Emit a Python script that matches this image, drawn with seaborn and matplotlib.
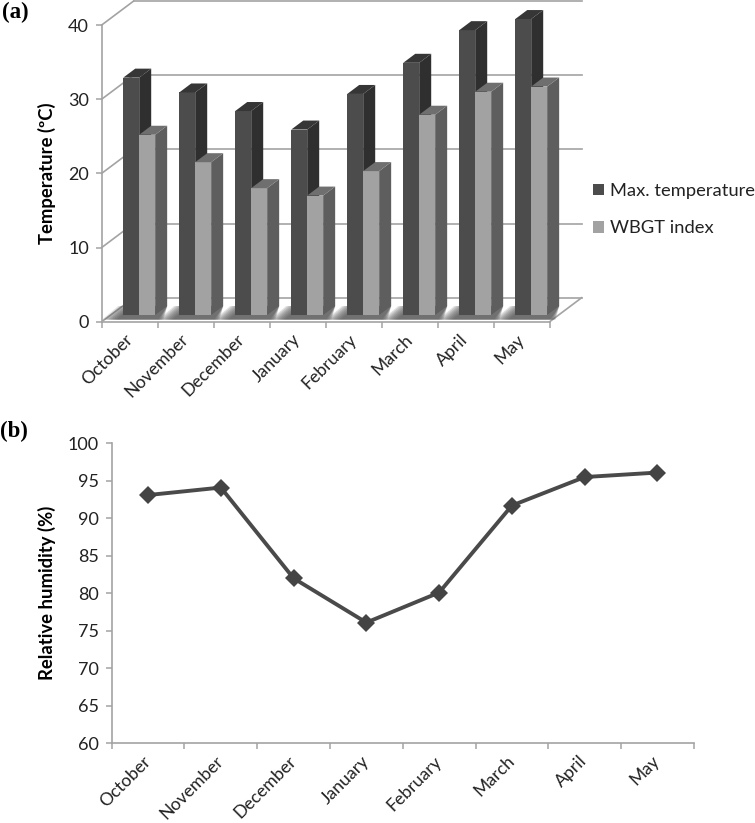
import matplotlib
matplotlib.use("Agg")
import matplotlib.pyplot as plt
import pandas as pd
import seaborn as sns
from matplotlib.patches import Polygon

months = ["October", "November", "December", "January", "February", "March", "April", "May"]
max_temp = [32.0, 30.0, 27.5, 25.0, 29.8, 34.0, 38.4, 39.9]
wbgt = [24.3, 20.6, 17.1, 16.1, 19.4, 27.0, 30.1, 30.8]
humidity = [93.1, 94.1, 82.0, 76.1, 80.1, 91.7, 95.5, 96.1]
series_names = ["Max. temperature", "WBGT index"]

W, H = 755, 823
GREY = "#a3a3a3"
TXT = "#222222"
DARK = "#4c4c4c"
LIGHT = "#a2a2a2"
FS = 13

sns.set_theme(style="white")
plt.rcParams["font.family"] = ["Lato", "DejaVu Sans"]
plt.rcParams["font.size"] = FS

fig = plt.figure(figsize=(W / 100, H / 100), dpi=100)


def axes_px(left, right, top, bottom):
    return fig.add_axes([left / W, 1 - bottom / H, (right - left) / W, (bottom - top) / H])


def style_axes(ax):
    sns.despine(ax=ax)
    for s in ("left", "bottom"):
        ax.spines[s].set_color(GREY)
        ax.spines[s].set_linewidth(1.2)
    ax.tick_params(axis="y", which="major", left=True, length=4.3, width=1.1, color=GREY,
                   pad=5, labelsize=FS, labelcolor=TXT)
    ax.set_xticks(range(len(months)))
    ax.set_xticks([i - 0.5 for i in range(len(months) + 1)], minor=True)
    ax.tick_params(axis="x", which="major", bottom=False, length=0, pad=11, labelsize=12.7, labelcolor=TXT)
    ax.tick_params(axis="x", which="minor", bottom=True, length=4, width=1.1, color=GREY)
    ax.set_xticklabels(months, rotation=45, ha="right", va="center", rotation_mode="anchor")
    ax.set_xlim(-0.5, len(months) - 0.5)
    ax.set_xlabel("")


# ---------- panel (a) ----------
ax = axes_px(101.7, 549.7, 25, 321.7)
df = pd.DataFrame({
    "month": months * 2,
    "series": [series_names[0]] * len(months) + [series_names[1]] * len(months),
    "value": max_temp + wbgt,
})
sns.barplot(data=df, x="month", y="value", hue="series", order=months, hue_order=series_names,
            palette=[DARK, LIGHT], width=0.57, gap=0, saturation=1, linewidth=0, ax=ax)
ax.set_ylim(0, 40)
ax.set_yticks([0, 10, 20, 30, 40])
style_axes(ax)

px_x = 1 / 56.0           # one pixel in category units
px_y = 40 / 296.7         # one pixel in data units
wall_dx, wall_dy = 32 * px_x, 24 * px_y
bar_ox, bar_oy = 9.5 * px_x, 6.7 * px_y
depth_x, depth_y = 12 * px_x, 9 * px_y

# back wall, side wall and floor
line_kw = dict(color=GREY, lw=1.2, clip_on=False, zorder=1, solid_capstyle="projecting")
x_l, x_r = -0.5, len(months) - 0.5
for tick in [0, 10, 20, 30, 40]:
    ax.plot([x_l + wall_dx, x_r + wall_dx], [tick + wall_dy] * 2, **line_kw)
    ax.plot([x_l, x_l + wall_dx], [tick, tick + wall_dy], **line_kw)
ax.plot([x_r, x_r + wall_dx], [0, wall_dy], **line_kw)

# bars with depth faces
n = len(months)
patches = [p for p in ax.patches if p.get_height() > 0][:2 * n]
face_cols = {0: ("#2f2f2f", "#363636"), 1: ("#5e5e5e", "#6f6f6f")}
for i, p in enumerate(patches):
    s = i // n
    p.set_x(p.get_x() + bar_ox)
    p.set_y(bar_oy)
    p.set_clip_on(False)
    p.set_zorder(3 + s)
    x0, x1, y0, y1 = p.get_x(), p.get_x() + p.get_width(), bar_oy, bar_oy + p.get_height()
    side_c, top_c = face_cols[s]
    ax.add_patch(Polygon([(x1, y0), (x1, y1), (x1 + depth_x, y1 + depth_y), (x1 + depth_x, y0 + depth_y)],
                         closed=True, fc=side_c, ec="none", clip_on=False, zorder=3 + s))
    ax.add_patch(Polygon([(x0, y1), (x1, y1), (x1 + depth_x, y1 + depth_y), (x0 + depth_x, y1 + depth_y)],
                         closed=True, fc=top_c, ec="none", clip_on=False, zorder=3 + s))

# soft floor shadows below each bar pair
for i in range(n):
    left = patches[i].get_x()
    right = patches[i + n].get_x() + patches[i + n].get_width()
    for k in range(8):
        g = k * 2.0 * px_x
        ax.add_patch(Polygon([(left - 7 * px_x - g, bar_oy - 4.6 * px_y),
                              (right + 3 * px_x + g * 0.4, bar_oy - 4.6 * px_y),
                              (right + depth_x, bar_oy + depth_y),
                              (left + depth_x - 3 * px_x - g, bar_oy + depth_y)],
                             closed=True, fc="#4a4a4a", ec="none", alpha=0.17, zorder=2, clip_on=False))

ax.set_ylabel("Temperature (ºC)", fontsize=13.3, fontweight="bold", color="black")
ax.yaxis.set_label_coords(56 / W, 1 - 173 / H, transform=fig.transFigure)

handles, labels = ax.get_legend_handles_labels()
ax.legend(handles, labels, frameon=False, loc="upper left", bbox_to_anchor=(593 / W, 1 - 183 / H),
          bbox_transform=fig.transFigure, fontsize=13.2, labelcolor=TXT, handlelength=0.62, handleheight=0.62,
          handletextpad=0.3, labelspacing=1.15, borderpad=0, borderaxespad=0)

# ---------- panel (b) ----------
ax2 = axes_px(111.7, 693.8, 443.3, 743.3)
sns.lineplot(x=months, y=humidity, sort=False, color="#4a4a4a", lw=2.8, marker="D", markersize=9,
             markeredgewidth=0, markerfacecolor="#444444", errorbar=None, ax=ax2)
ax2.set_ylim(60, 100)
ax2.set_yticks(range(60, 101, 5))
style_axes(ax2)
ax2.set_ylabel("Relative humidity (%)", fontsize=13.3, fontweight="bold", color="black")
ax2.yaxis.set_label_coords(56 / W, 1 - 593 / H, transform=fig.transFigure)

# ---------- panel letters ----------
serif = dict(family="Liberation Serif", fontweight="bold", fontsize=16.5, color="black", va="center", ha="left")
fig.text(2 / W, 1 - 12 / H, "(a)", **serif)
fig.text(0 / W, 1 - 431 / H, "(b)", **serif)

fig.savefig("out.png", dpi=100, facecolor="white")
